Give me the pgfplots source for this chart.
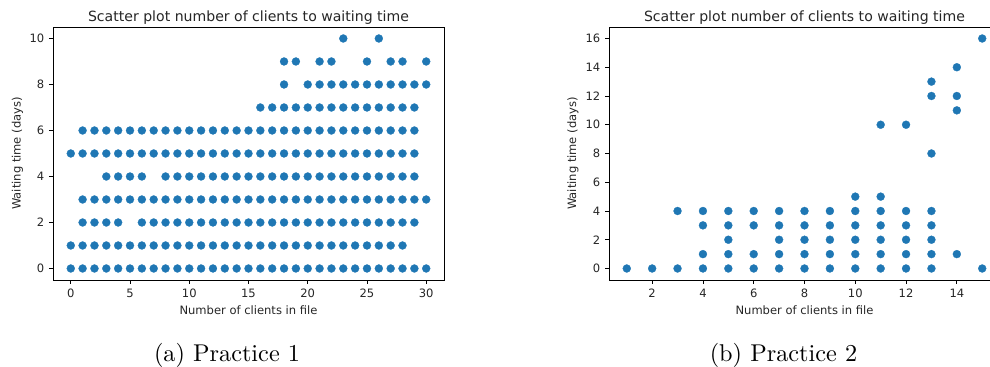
\documentclass[border=0pt]{standalone}
\usepackage{fontspec}
\usepackage{pgfplots}
\pgfplotsset{compat=1.18}
\newfontfamily\mplfont{DejaVu Sans}
\newfontfamily\capfont{lmroman10-regular}[Extension=.otf]
\definecolor{mplblue}{RGB}{31,119,180}

\pgfplotsset{
  mplscatter/.style={
    scale only axis,
    width=293.25pt, height=189.75pt,
    axis line style={black, line width=0.6pt},
    tick align=outside, tick pos=left,
    major tick length=3pt,
    every tick/.style={black, line width=0.6pt},
    /pgf/number format/assume math mode=true,
    tick label style={font=\mplfont\fontsize{8.65}{10}\selectfont, text=black!85},
    label style={font=\mplfont\fontsize{8.65}{10}\selectfont, text=black!85},
    title style={font=\mplfont\fontsize{10.56}{12}\selectfont, text=black!85,
      at={(axis description cs:0.5,1)}, anchor=base, yshift=-2pt},
    xlabel style={at={(axis description cs:0.5,0)}, anchor=base, yshift=-26.25pt},
    xlabel={Number of clients in file},
    ylabel={Waiting time (days)},
    title={Scatter plot number of clients to waiting time},
    clip=false,
  },
  dots/.style={only marks, mark=*, mark size=3pt,
    mark options={draw=mplblue, fill=mplblue, line width=0.2pt}},
}

\begin{document}
\begin{tikzpicture}
\useasboundingbox (0,0) rectangle (742.5pt,275.25pt);
\clip (0,0) rectangle (742.5pt,275.25pt);

% Practice 1
\begin{axis}[mplscatter,
  at={(39.75pt,65.25pt)}, anchor=south west,
  xmin=-1.5, xmax=31.5, ymin=-0.5, ymax=10.5,
  xtick={0,5,...,30}, ytick={0,2,...,10},
  ylabel style={at={(axis description cs:-0.0908,0.5)}, anchor=center},
]
\addplot[dots] coordinates {(0,0)(1,0)(2,0)(3,0)(4,0)(5,0)(6,0)(7,0)(8,0)(9,0)(10,0)(11,0)(12,0)(13,0)(14,0)(15,0)(16,0)(17,0)(18,0)(19,0)(20,0)(21,0)(22,0)(23,0)(24,0)(25,0)(26,0)(27,0)(28,0)(29,0)(30,0)};
\addplot[dots] coordinates {(0,1)(1,1)(2,1)(3,1)(4,1)(5,1)(6,1)(7,1)(8,1)(9,1)(10,1)(11,1)(12,1)(13,1)(14,1)(15,1)(16,1)(17,1)(18,1)(19,1)(20,1)(21,1)(22,1)(23,1)(24,1)(25,1)(26,1)(27,1)(28,1)};
\addplot[dots] coordinates {(1,2)(2,2)(3,2)(4,2)(6,2)(7,2)(8,2)(9,2)(10,2)(11,2)(12,2)(13,2)(14,2)(15,2)(16,2)(17,2)(18,2)(19,2)(20,2)(21,2)(22,2)(23,2)(24,2)(25,2)(26,2)(27,2)(28,2)(29,2)};
\addplot[dots] coordinates {(1,3)(2,3)(3,3)(4,3)(5,3)(6,3)(7,3)(8,3)(9,3)(10,3)(11,3)(12,3)(13,3)(14,3)(15,3)(16,3)(17,3)(18,3)(19,3)(20,3)(21,3)(22,3)(23,3)(24,3)(25,3)(26,3)(27,3)(28,3)(29,3)(30,3)};
\addplot[dots] coordinates {(3,4)(4,4)(5,4)(6,4)(8,4)(9,4)(10,4)(11,4)(12,4)(13,4)(14,4)(15,4)(16,4)(17,4)(18,4)(19,4)(20,4)(21,4)(22,4)(23,4)(24,4)(25,4)(26,4)(27,4)(28,4)(29,4)};
\addplot[dots] coordinates {(0,5)(1,5)(2,5)(3,5)(4,5)(5,5)(6,5)(7,5)(8,5)(9,5)(10,5)(11,5)(12,5)(13,5)(14,5)(15,5)(16,5)(17,5)(18,5)(19,5)(20,5)(21,5)(22,5)(23,5)(24,5)(25,5)(26,5)(27,5)(28,5)(29,5)};
\addplot[dots] coordinates {(1,6)(2,6)(3,6)(4,6)(5,6)(6,6)(7,6)(8,6)(9,6)(10,6)(11,6)(12,6)(13,6)(14,6)(15,6)(16,6)(17,6)(18,6)(19,6)(20,6)(21,6)(22,6)(23,6)(24,6)(25,6)(26,6)(27,6)(28,6)(29,6)};
\addplot[dots] coordinates {(16,7)(17,7)(18,7)(19,7)(20,7)(21,7)(22,7)(23,7)(24,7)(25,7)(26,7)(27,7)(28,7)(29,7)};
\addplot[dots] coordinates {(18,8)(20,8)(21,8)(22,8)(23,8)(24,8)(25,8)(26,8)(27,8)(28,8)(29,8)(30,8)};
\addplot[dots] coordinates {(18,9)(19,9)(21,9)(22,9)(25,9)(27,9)(28,9)(30,9)};
\addplot[dots] coordinates {(23,10)(26,10)};
\end{axis}

% Practice 2
\begin{axis}[mplscatter,
  at={(456.75pt,65.25pt)}, anchor=south west,
  xmin=0.3, xmax=15.7, ymin=-0.8, ymax=16.8,
  xtick={2,4,...,14}, ytick={0,2,...,16},
  ylabel style={at={(axis description cs:-0.0921,0.5)}, anchor=center},
]
\addplot[dots] coordinates {
  (1,0) (2,0) (3,0) (3,4)
  (4,0) (4,1) (4,3) (4,4)
  (5,0) (5,1) (5,2) (5,3) (5,4)
  (6,0) (6,1) (6,3) (6,4)
  (7,0) (7,1) (7,2) (7,3) (7,4)
  (8,0) (8,1) (8,2) (8,3) (8,4)
  (9,0) (9,1) (9,2) (9,3) (9,4)
  (10,0) (10,1) (10,2) (10,3) (10,4) (10,5)
  (11,0) (11,1) (11,2) (11,3) (11,4) (11,5) (11,10)
  (12,0) (12,1) (12,2) (12,3) (12,4) (12,10)
  (13,0) (13,1) (13,2) (13,3) (13,4) (13,8) (13,12) (13,13)
  (14,1) (14,11) (14,12) (14,14)
  (15,0) (15,16)
};
\end{axis}

% sub-captions
\node[anchor=base, font=\capfont\fontsize{18.2}{21}\selectfont] at (170.25pt,4.3pt) {(a) Practice 1};
\node[anchor=base, font=\capfont\fontsize{18.2}{21}\selectfont] at (587.6pt,4.3pt) {(b) Practice 2};
\end{tikzpicture}
\end{document}
